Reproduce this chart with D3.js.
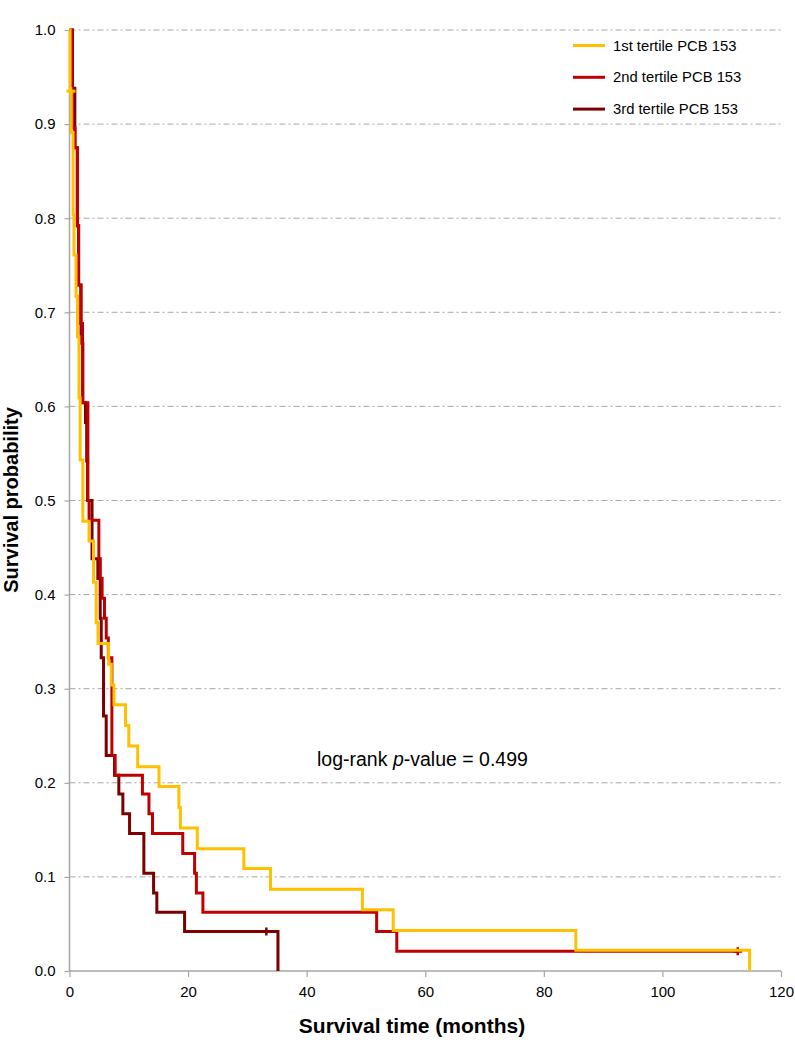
<!DOCTYPE html>
<html>
<head>
<meta charset="utf-8">
<script src="https://cdn.jsdelivr.net/npm/d3@7/dist/d3.min.js"></script>
<style>
  html, body { margin: 0; padding: 0; background: #fff; }
  svg { display: block; font-family: "Liberation Sans", Arial, sans-serif; }
</style>
</head>
<body>
<svg id="chart" width="795" height="1050"></svg>
<script>
// ---- Data ----
const seriesNames = ["1st tertile PCB 153", "2nd tertile PCB 153", "3rd tertile PCB 153"];
const seriesColors = ["#FFC000", "#C00000", "#7B0000"];

// 1st tertile: event times (months) and survival after each step
const t1Times = [0.1, 0.3, 0.6, 0.75, 1.1, 1.35, 1.6, 1.8, 2.25, 3.3, 4.05, 4.5, 4.8, 6.6, 7.05, 7.5, 9.45, 10.0, 11.5, 15.1, 18.45, 18.7, 21.55, 29.4, 33.9, 49.4, 54.6, 85.4, 114.7];
const t1Surv  = [0.935, 0.891, 0.804, 0.761, 0.717, 0.674, 0.609, 0.543, 0.478, 0.457, 0.413, 0.370, 0.348, 0.326, 0.304, 0.283, 0.261, 0.239, 0.217, 0.196, 0.174, 0.152, 0.130, 0.109, 0.087, 0.065, 0.043, 0.022, 0.0];
const t1Censor = [0.25];

// 2nd tertile
const t2Times = [0.45, 0.93, 1.35, 1.52, 1.9, 2.2, 3.1, 3.3, 4.95, 5.2, 5.5, 5.9, 6.2, 6.55, 7.15, 7.7, 12.3, 13.4, 14.0, 19.1, 21.1, 21.4, 22.5, 51.8, 55.2];
const t2Surv  = [0.896, 0.875, 0.792, 0.729, 0.688, 0.604, 0.500, 0.479, 0.438, 0.417, 0.396, 0.375, 0.354, 0.333, 0.229, 0.208, 0.188, 0.167, 0.146, 0.125, 0.104, 0.083, 0.0625, 0.042, 0.021];
const t2Censor = [112.7];

// 3rd tertile
const t3Times = [0.5, 0.9, 1.3, 1.55, 1.95, 2.25, 2.7, 2.9, 3.05, 3.8, 4.78, 5.18, 5.35, 5.74, 6.19, 7.59, 8.32, 9.0, 10.13, 12.54, 14.18, 14.73, 19.41, 35.16];
const t3Surv  = [0.938, 0.875, 0.792, 0.729, 0.667, 0.604, 0.583, 0.542, 0.500, 0.438, 0.417, 0.375, 0.333, 0.271, 0.229, 0.208, 0.188, 0.167, 0.146, 0.104, 0.083, 0.0625, 0.042, 0.0];
const t3Censor = [33.2];

const xTicks = [0, 20, 40, 60, 80, 100, 120];
const yTicks = [0.0, 0.1, 0.2, 0.3, 0.4, 0.5, 0.6, 0.7, 0.8, 0.9, 1.0];

// ---- Drawing ----
const svg = d3.select("#chart");
const x = d3.scaleLinear().domain([0, 120]).range([69.5, 781]);
const y = d3.scaleLinear().domain([0, 1]).range([971, 30]);
const axisColor = "#a6a6a6";

// gridlines
svg.append("g").selectAll("line").data(yTicks.filter(d => d > 0)).join("line")
  .attr("x1", x(0)).attr("x2", x(120))
  .attr("y1", d => y(d)).attr("y2", d => y(d))
  .attr("stroke", "#a6a6a6").attr("stroke-width", 1)
  .attr("stroke-dasharray", "6,3,2,3");

// y axis
const yAxis = svg.append("g").attr("transform", `translate(${x(0)},0)`)
  .call(d3.axisLeft(y).tickValues(yTicks).tickFormat(d3.format(".1f")).tickSize(5).tickPadding(9));
// x axis
const xAxis = svg.append("g").attr("transform", `translate(0,${y(0)})`)
  .call(d3.axisBottom(x).tickValues(xTicks).tickFormat(d3.format("d")).tickSize(6).tickPadding(9));
[yAxis, xAxis].forEach(g => {
  g.select(".domain").attr("stroke", axisColor).attr("stroke-width", 1.5);
  g.selectAll(".tick line").attr("stroke", axisColor).attr("stroke-width", 1.2);
  g.selectAll(".tick text").attr("fill", "#000").style("font-size", "15px")
    .style("font-family", '"Liberation Sans", Arial, sans-serif');
});
xAxis.select(".domain").attr("d", `M${x(0)},0H${x(120)}`);
yAxis.select(".domain").attr("d", `M0,${y(0)}V${y(1)}`);

// curves
const series = [
  { times: t1Times, surv: t1Surv, censor: t1Censor },
  { times: t2Times, surv: t2Surv, censor: t2Censor },
  { times: t3Times, surv: t3Surv, censor: t3Censor }
];
function survAt(s, t) {
  let v = 1;
  for (let i = 0; i < s.times.length; i++) if (s.times[i] <= t) v = s.surv[i];
  return v;
}
const line = d3.line().x(d => x(d[0])).y(d => y(d[1])).curve(d3.curveStepAfter);
const drawOrder = [2, 1, 0];
drawOrder.forEach(i => {
  const s = series[i];
  const pts = [[0, 1]];
  s.times.forEach((t, j) => pts.push([t, s.surv[j]]));
  const lastCensor = d3.max(s.censor);
  const lastT = s.times[s.times.length - 1];
  if (lastCensor > lastT) pts.push([lastCensor, s.surv[s.surv.length - 1]]);
  svg.append("path").datum(pts).attr("d", line)
    .attr("fill", "none").attr("stroke", seriesColors[i]).attr("stroke-width", 3)
    .attr("stroke-linejoin", "miter");
  const g = svg.append("g");
  s.censor.forEach(c => {
    const cx = x(c), cy = y(survAt(s, c));
    g.append("line").attr("x1", cx - 4.5).attr("x2", cx + 4.5).attr("y1", cy).attr("y2", cy)
      .attr("stroke", seriesColors[i]).attr("stroke-width", 3);
    g.append("line").attr("x1", cx).attr("x2", cx).attr("y1", cy - 4).attr("y2", cy + 4)
      .attr("stroke", seriesColors[i]).attr("stroke-width", 2.5);
  });
});

// legend
const legend = svg.append("g");
seriesNames.forEach((name, i) => {
  const ly = 45.5 + i * 31.8;
  legend.append("line").attr("x1", 573).attr("x2", 605).attr("y1", ly).attr("y2", ly)
    .attr("stroke", seriesColors[i]).attr("stroke-width", 3);
  legend.append("text").attr("x", 613).attr("y", ly).attr("dy", "0.35em")
    .style("font-size", "14.8px").attr("fill", "#000").text(name);
});

// annotation with italic p
const ann = svg.append("text").attr("x", 317).attr("y", 766).style("font-size", "19.5px").attr("fill", "#000");
ann.append("tspan").text("log-rank ");
ann.append("tspan").style("font-style", "italic").text("p");
ann.append("tspan").text("-value = 0.499");

// axis titles
svg.append("text").attr("x", 412).attr("y", 1033).attr("text-anchor", "middle")
  .style("font-size", "21px").style("font-weight", "bold").text("Survival time (months)");
svg.append("text").attr("transform", "translate(18,500) rotate(-90)").attr("text-anchor", "middle")
  .style("font-size", "20px").style("font-weight", "bold").text("Survival probability");
</script>
</body>
</html>
